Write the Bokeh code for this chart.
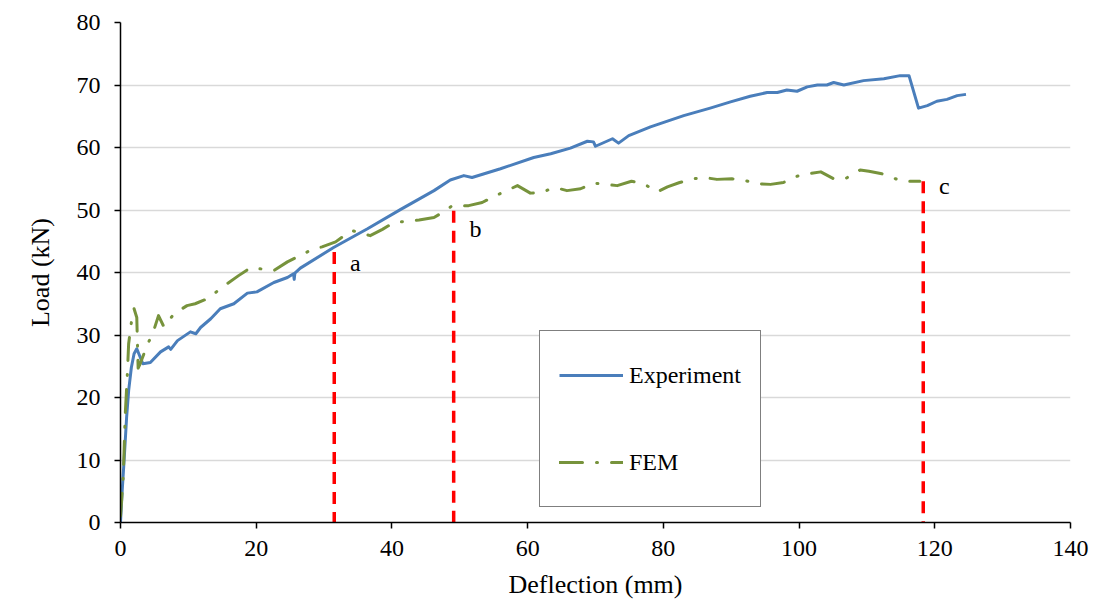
from bokeh.plotting import figure
from bokeh.models import Range1d, Legend, LegendItem, Label, FixedTicker, Title
from bokeh.embed import file_html
from bokeh.resources import INLINE

# Experiment curve (deflection mm, load kN)
exp_x = [0, 0.25, 0.5, 0.9, 1.2, 1.6, 2.0, 2.4, 3.3, 4.4, 5.9, 7.1, 7.4, 8.4, 10.3, 11.1, 11.8,
         13.3, 14.7, 16.7, 18.7, 20.1, 22.6, 24.6, 25.5, 25.6, 25.7, 26.5, 31.4, 36.4, 41.3,
         46.2, 48.6, 50.6, 51.8, 56.0, 60.9, 63.4, 66.3, 68.8, 69.7, 70.0, 72.5, 73.4, 74.9,
         78.1, 83.0, 86.9, 89.9, 92.8, 95.3, 96.8, 98.2, 99.7, 101.2, 102.7, 104.1, 105.1,
         106.6, 109.5, 112.5, 114.9, 116.2, 117.6, 118.9, 120.3, 121.8, 123.3, 124.6]
exp_y = [0, 5.1, 9.4, 16.8, 21.1, 24.8, 27.0, 27.8, 25.4, 25.6, 27.3, 28.1, 27.7, 29.1, 30.5, 30.2, 31.2,
         32.6, 34.2, 35.0, 36.7, 36.9, 38.4, 39.2, 39.8, 38.9, 39.9, 40.7, 44.0, 47.0, 50.1,
         53.1, 54.8, 55.5, 55.2, 56.6, 58.4, 59.0, 59.9, 61.0, 60.9, 60.2, 61.4, 60.7, 61.9,
         63.3, 65.1, 66.3, 67.3, 68.2, 68.8, 68.8, 69.2, 69.0, 69.7, 70.0, 70.0, 70.4,
         70.0, 70.7, 71.0, 71.5, 71.5, 66.3, 66.7, 67.4, 67.7, 68.3, 68.5]

# FEM curve
fem_x = [0, 0.4, 0.5, 0.7, 1.0, 1.2, 1.6, 2.0, 2.4, 2.5, 2.6, 2.9, 3.9, 4.8, 5.6, 6.4, 7.1, 7.9,
         9.8, 11.0, 12.8, 15.7, 17.4, 19.2, 22.6, 24.6, 26.4, 28.5, 29.7, 31.7, 33.6, 34.1,
         36.8, 38.6, 40.3, 44.0, 46.2, 47.9, 48.9, 51.3, 53.3, 55.3, 58.5, 60.4, 62.1, 63.4,
         64.4, 65.8, 67.8, 69.7, 73.2, 75.3, 77.1, 79.1, 80.6, 82.4, 84.5, 86.0, 87.9, 90.1,
         92.1, 93.8, 95.8, 97.7, 99.7, 100.7, 103.2, 105.1, 106.8, 109.0, 110.3, 112.2,
         114.2, 115.2, 117.8]
fem_y = [1.0, 7.3, 10.5, 17.3, 23.5, 28.6, 32.0, 34.2, 32.8, 28.6, 24.7, 25.4, 28.3, 30.4, 33.1, 31.3, 32.3, 33.4,
         34.7, 35.0, 35.8, 38.2, 39.5, 40.8, 40.3, 41.7, 42.7, 43.8, 44.1, 44.9, 46.4, 46.7,
         45.9, 46.9, 48.0, 48.4, 48.8, 49.9, 50.7, 50.7, 51.2, 52.3, 53.9, 52.7, 52.8, 53.4,
         53.5, 53.1, 53.4, 54.3, 53.9, 54.6, 54.2, 52.9, 53.7, 54.4, 55.0, 55.2, 54.9, 55.0,
         54.7, 54.2, 54.1, 54.4, 55.4, 55.7, 56.1, 55.0, 55.0, 56.4, 56.2, 55.8,
         55.0, 54.6, 54.6]

# Stage markers
mark_labels = ["a", "b", "c"]
mark_x = [31.5, 49.1, 118.3]
mark_top = [43.3, 49.9, 54.6]
label_x = [34.6, 52.3, 121.4]
label_y = [41.6, 47.0, 53.9]

x_ticks = [0, 20, 40, 60, 80, 100, 120, 140]
y_ticks = [0, 10, 20, 30, 40, 50, 60, 70, 80]

FONT = "Liberation Serif"

p = figure(width=1095, height=608, output_backend="svg", toolbar_location=None,
           x_range=Range1d(0, 140), y_range=Range1d(0, 80),
           min_border_left=120, min_border_right=25, min_border_top=22, min_border_bottom=86)
p.outline_line_color = None
p.background_fill_color = "white"
p.border_fill_color = "white"

p.xgrid.visible = False
p.ygrid.grid_line_color = "#d9d9d9"
p.ygrid.grid_line_width = 1.5

for ax, ticks in ((p.xaxis, x_ticks), (p.yaxis, y_ticks)):
    ax.ticker = FixedTicker(ticks=ticks)
    ax.axis_line_color = "black"
    ax.axis_line_width = 1.5
    ax.major_tick_line_color = "black"
    ax.major_tick_line_width = 1.5
    ax.major_tick_in = 0
    ax.major_tick_out = 6
    ax.minor_tick_line_color = None
    ax.major_label_text_font = FONT
    ax.major_label_text_font_size = "24px"
    ax.major_label_text_color = "black"
p.xaxis.major_label_standoff = 12
p.yaxis.major_label_standoff = 14

r_exp = p.line(exp_x, exp_y, line_color="#4a7ebb", line_width=3, line_join="round")
r_fem = p.line(fem_x, fem_y, line_color="#77933c", line_width=3, line_dash="23 14 1 14",
               line_cap="round", line_join="round")

for mx, mt in zip(mark_x, mark_top):
    p.line([mx, mx], [mt, 0], line_color="#ff0000", line_width=3.5, line_dash="12 8")

for t, lx, ly in zip(mark_labels, label_x, label_y):
    p.add_layout(Label(x=lx, y=ly, text=t, text_font=FONT, text_font_size="24px",
                       text_align="center", text_baseline="middle", text_color="black"))

p.add_layout(Title(text="Deflection (mm)", align="center", offset=-36, standoff=18,
                   text_font=FONT, text_font_size="26px", text_font_style="normal",
                   text_color="black"), "below")
p.add_layout(Title(text="Load (kN)", align="center", offset=-16, standoff=38,
                   text_font=FONT, text_font_size="26px", text_font_style="normal",
                   text_color="black"), "left")

legend = Legend(items=[LegendItem(label="Experiment", renderers=[r_exp]),
                       LegendItem(label="FEM", renderers=[r_fem])],
                location=(419, 15), orientation="vertical",
                padding=19, spacing=37, margin=0,
                glyph_width=64, glyph_height=50, label_height=50, label_standoff=6,
                label_text_font=FONT, label_text_font_size="24px", label_text_color="black",
                border_line_color="black", border_line_width=1.3,
                background_fill_color="white", background_fill_alpha=1)
p.add_layout(legend, "center")

open("out.html", "w").write(file_html(p, INLINE))
